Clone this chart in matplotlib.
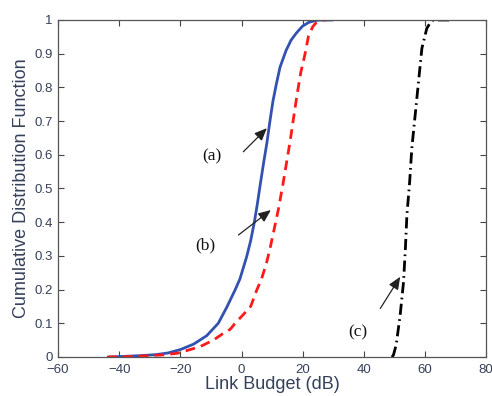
"""Recreate the link-budget CDF chart."""

import matplotlib
matplotlib.use("Agg")
import matplotlib.pyplot as plt

# curve (a): solid blue
budget_a = [-43, -38, -33, -28, -24, -20, -15.7, -11.4, -7.6, -4.8, -2.1, -0.5,
            1.7, 3.0, 4.2, 5.2, 6.1, 7.3, 8.3, 9.3, 10.3, 11.4, 12.6, 14.6, 16.2,
            18.0, 20.0, 22.0, 24.5, 26.0, 29.5]
cdf_a = [0.0, 0.002, 0.004, 0.007, 0.012, 0.022, 0.038, 0.063, 0.1, 0.148,
         0.199, 0.232, 0.298, 0.345, 0.4, 0.455, 0.51, 0.58, 0.635, 0.7, 0.76,
         0.81, 0.86, 0.91, 0.94, 0.962, 0.982, 0.993, 0.999, 1.0, 1.0]

# curve (b): dashed red
budget_b = [-44, -38, -32, -26, -21, -17.9, -13.5, -9.2, -6.0, -3.7, -2.1, 0.5,
            3.0, 5.0, 6.5, 8.2, 9.4, 10.7, 12.1, 13.5, 14.7, 15.9, 17.2, 18.2,
            19.4, 20.8, 21.9, 23.3, 24.5, 25.7, 27.9]
cdf_b = [0.0, 0.001, 0.003, 0.006, 0.011, 0.019, 0.031, 0.05, 0.07, 0.082, 0.1,
         0.125, 0.15, 0.199, 0.23, 0.28, 0.325, 0.38, 0.44, 0.51, 0.575, 0.64,
         0.72, 0.78, 0.845, 0.9, 0.952, 0.98, 0.993, 1.0, 1.0]

# curve (c): dash-dot black
budget_c = [49.2, 49.7, 50.6, 51.9, 53.0, 53.6, 54.1, 55.0, 55.7, 56.8, 57.9,
            59.0, 60.6, 61.8, 62.8, 69.3]
cdf_c = [0.0, 0.006, 0.036, 0.125, 0.223, 0.322, 0.421, 0.52, 0.619, 0.718,
         0.817, 0.916, 0.975, 0.993, 1.0, 1.0]

x_ticks = [-60, -40, -20, 0, 20, 40, 60, 80]
y_ticks = [0, 0.1, 0.2, 0.3, 0.4, 0.5, 0.6, 0.7, 0.8, 0.9, 1]
y_tick_labels = ["0", "0.1", "0.2", "0.3", "0.4", "0.5", "0.6", "0.7", "0.8", "0.9", "1"]

# label text, label position, arrow tail, arrow head
notes = [
    ("(a)", (-9.6, 0.594), (0.6, 0.609), (8.3, 0.679)),
    ("(b)", (-11.9, 0.332), (-1.0, 0.362), (9.6, 0.436)),
    ("(c)", (38.2, 0.074), (45.4, 0.144), (51.9, 0.238)),
]

plt.rcParams["font.family"] = ["Liberation Sans", "DejaVu Sans"]

fig = plt.figure(figsize=(4.92, 3.96), dpi=100)
ax = fig.add_axes([0.118, 0.0985, 0.870, 0.851])

ax.plot(budget_a, cdf_a, color="#3352b0", lw=2.0)
ax.plot(budget_b, cdf_b, color="#ff1a1a", lw=2.0, dashes=(3.5, 2.2))
ax.plot(budget_c, cdf_c, color="black", lw=2.0, dashes=(4, 1.6, 0.6, 1.6))

for text, pos, tail, head in notes:
    ax.text(pos[0], pos[1], text, family="Liberation Serif", fontsize=12.5,
            ha="center", va="center", color="#111111")
    ax.annotate("", xy=head, xytext=tail,
                arrowprops=dict(arrowstyle="-|>,head_length=0.75,head_width=0.32",
                                color="#222222", lw=0.9, shrinkA=0, shrinkB=0))

ax.set_xlim(-60, 80)
ax.set_ylim(0, 1)
ax.set_xticks(x_ticks)
ax.set_yticks(y_ticks)
ax.set_yticklabels(y_tick_labels)
ax.tick_params(direction="in", top=True, right=True, length=4, width=0.8,
               color="#444444", labelsize=9.5, labelcolor="#35405a")
ax.tick_params(axis="x", pad=5)
ax.tick_params(axis="y", pad=4)
for spine in ax.spines.values():
    spine.set_color("#555555")
    spine.set_linewidth(0.9)

ax.set_xlabel("Link Budget (dB)", fontsize=13, color="#35405a", labelpad=0)
ax.set_ylabel("Cumulative Distribution Function", fontsize=13, color="#35405a", labelpad=3)

fig.savefig("out.png", dpi=100)
